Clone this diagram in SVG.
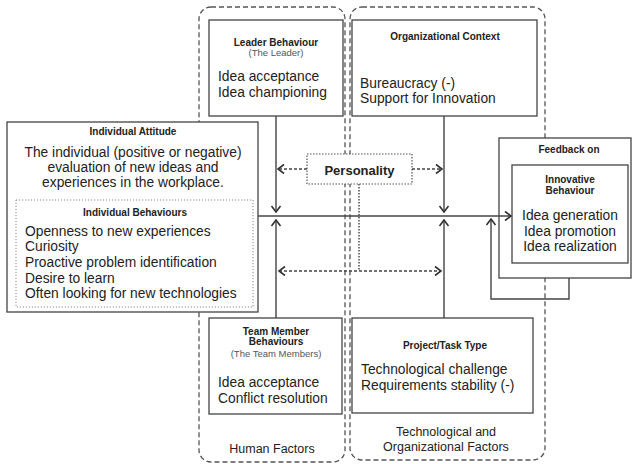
<svg xmlns="http://www.w3.org/2000/svg" width="633" height="464" viewBox="0 0 633 464">
<style>
text{font-family:"Liberation Sans",Arial,sans-serif;fill:#222}
.t{font-size:10px;font-weight:bold;text-anchor:middle}
.s{font-size:9.5px;fill:#555;text-anchor:middle}
.b{font-size:13.8px}
.c{text-anchor:middle}
.box{fill:#fff;stroke:#444;stroke-width:1.3}
.grp{fill:none;stroke:#555;stroke-width:1.3;stroke-dasharray:5,3}
.ln{fill:none;stroke:#444;stroke-width:1.4}
.dl{fill:none;stroke:#444;stroke-width:1.3;stroke-dasharray:3,2}
</style>
<defs>
<marker id="arr" viewBox="-8 -6 9 12" markerWidth="9" markerHeight="12" refX="0" refY="0" orient="auto-start-reverse" markerUnits="userSpaceOnUse">
<path d="M-6,-4.5 L0,0 L-6,4.5" fill="none" stroke="#333" stroke-width="1.6"/>
</marker>
</defs>
<rect width="633" height="464" fill="#fff"/>
<g id="human-factors">
<rect class="grp" x="199" y="7" width="146" height="455" rx="12"/>
<text class="c" x="272" y="453" font-size="12.5">Human Factors</text>
</g>
<g id="tech-org-factors">
<rect class="grp" x="350" y="7" width="195" height="453" rx="12"/>
<text class="c" x="446" y="436" font-size="12.5">Technological and</text>
<text class="c" x="446" y="451" font-size="12.5">Organizational Factors</text>
</g>
<g id="leader-behaviour">
<rect class="box" x="209" y="20" width="134" height="96"/>
<text class="t" x="276" y="45.5">Leader Behaviour</text>
<text class="s" x="276" y="56">(The Leader)</text>
<text class="b" x="218" y="81">Idea acceptance</text>
<text class="b" x="218" y="97">Idea championing</text>
</g>
<g id="organizational-context">
<rect class="box" x="352" y="20" width="185" height="96"/>
<text class="t" x="445" y="40">Organizational Context</text>
<text class="b" x="360" y="88">Bureaucracy (-)</text>
<text class="b" x="360" y="103">Support for Innovation</text>
</g>
<g id="individual-attitude">
<rect class="box" x="7" y="122" width="251" height="190"/>
<text class="t" x="133" y="135">Individual Attitude</text>
<text class="b c" x="133" y="157">The individual (positive or negative)</text>
<text class="b c" x="133" y="172">evaluation of new ideas and</text>
<text class="b c" x="133" y="187">experiences in the workplace.</text>
<g id="individual-behaviours">
<rect x="16" y="200" width="237" height="107" fill="none" stroke="#888" stroke-width="1" stroke-dasharray="1.2,1.8"/>
<text class="t" x="135" y="216">Individual Behaviours</text>
<text class="b" x="25" y="236">Openness to new experiences</text>
<text class="b" x="25" y="251">Curiosity</text>
<text class="b" x="25" y="267">Proactive problem identification</text>
<text class="b" x="25" y="283">Desire to learn</text>
<text class="b" x="25" y="298">Often looking for new technologies</text>
</g>
</g>
<g id="personality">
<rect x="307" y="154" width="105" height="30" fill="#fff" stroke="#555" stroke-width="1.2" stroke-dasharray="1.5,1.5"/>
<text x="359.5" y="175" font-size="13" font-weight="bold" text-anchor="middle">Personality</text>
</g>
<g id="feedback-on">
<rect class="box" x="499" y="138" width="132" height="140"/>
<text class="t" x="569" y="153">Feedback on</text>
</g>
<g id="innovative-behaviour">
<rect class="box" x="512" y="165" width="116" height="98"/>
<text class="t" x="570" y="183">Innovative</text>
<text class="t" x="570" y="194">Behaviour</text>
<text class="b c" x="570" y="220">Idea generation</text>
<text class="b c" x="570" y="236">Idea promotion</text>
<text class="b c" x="570" y="251">Idea realization</text>
</g>
<g id="team-member-behaviours">
<rect class="box" x="209" y="318" width="133" height="96"/>
<text class="t" x="276" y="335">Team Member</text>
<text class="t" x="276" y="345">Behaviours</text>
<text class="s" x="276" y="357">(The Team Members)</text>
<text class="b" x="218" y="387">Idea acceptance</text>
<text class="b" x="218" y="403">Conflict resolution</text>
</g>
<g id="project-task-type">
<rect class="box" x="352" y="318" width="181" height="95"/>
<text class="t" x="445" y="349">Project/Task Type</text>
<text class="b" x="361" y="374">Technological challenge</text>
<text class="b" x="361" y="390">Requirements stability (-)</text>
</g>
<g id="connectors">
<line class="ln" x1="276" y1="116" x2="276" y2="212" marker-end="url(#arr)"/>
<line class="ln" x1="276" y1="318" x2="276" y2="220" marker-end="url(#arr)"/>
<line class="ln" x1="444" y1="116" x2="444" y2="212" marker-end="url(#arr)"/>
<line class="ln" x1="444" y1="318" x2="444" y2="220" marker-end="url(#arr)"/>
<line class="ln" x1="258" y1="216" x2="511" y2="216" marker-end="url(#arr)"/>
<polyline class="ln" points="569,278 569,299 491,299 491,219" marker-end="url(#arr)"/>
<line class="dl" x1="307" y1="169" x2="278" y2="169" marker-end="url(#arr)"/>
<line class="dl" x1="412" y1="169" x2="442" y2="169" marker-end="url(#arr)"/>
<line x1="359" y1="184" x2="359" y2="271" stroke="#444" stroke-width="1.4" stroke-dasharray="1.5,1.5"/>
<line class="dl" x1="279" y1="271" x2="441" y2="271" marker-start="url(#arr)" marker-end="url(#arr)"/>
</g>
</svg>
